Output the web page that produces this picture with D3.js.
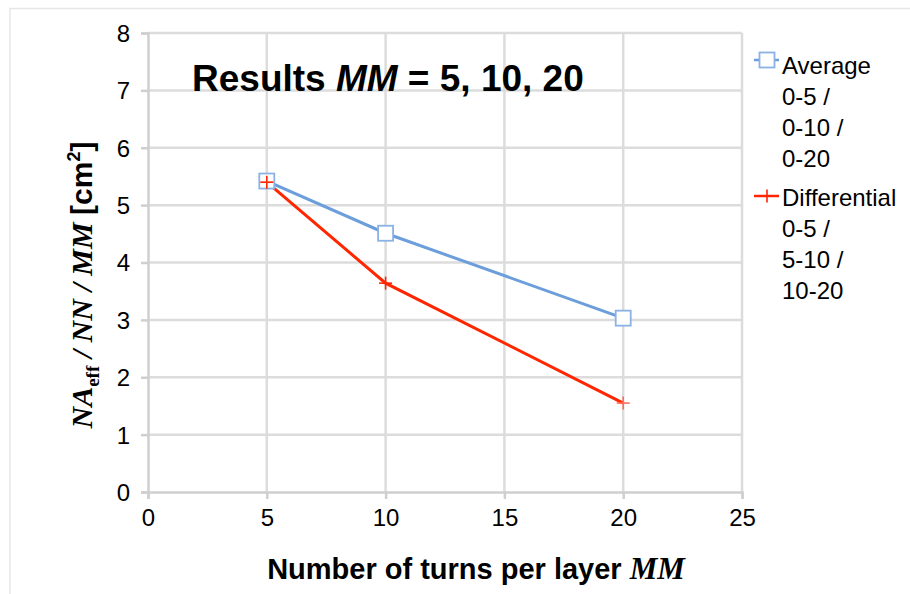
<!DOCTYPE html>
<html><head><meta charset="utf-8">
<script src="https://cdn.jsdelivr.net/npm/d3@7"></script>
<style>body{margin:0;background:#fff}svg{display:block}</style>
</head><body>
<svg id="c" width="910" height="594"></svg>
<script>
const turns = [5, 10, 20];
const averageVals = [5.42, 4.51, 3.03];
const differentialVals = [5.40, 3.64, 1.55];
const xTicks = [0, 5, 10, 15, 20, 25];
const yTicks = [0, 1, 2, 3, 4, 5, 6, 7, 8];
const legendAverage = ["Average", "0-5 /", "0-10 /", "0-20"];
const legendDiff = ["Differential", "0-5 /", "5-10 /", "10-20"];

const svg = d3.select("#c");
const sans = "'Liberation Sans', Arial, Helvetica, sans-serif";
const serif = "'Liberation Serif', 'Times New Roman', serif";
const x = d3.scaleLinear().domain([0, 25]).range([148, 742]);
const y = d3.scaleLinear().domain([0, 8]).range([492, 33]);

// outer border
svg.append("path").attr("d", "M10,594 V8.5 H910").attr("fill", "none").attr("stroke", "#e6e6e6").attr("stroke-width", 1.5);

// gridlines
svg.append("g").selectAll("line").data(yTicks.slice(1)).join("line")
  .attr("x1", x(0)).attr("x2", x(25)).attr("y1", d => y(d)).attr("y2", d => y(d))
  .attr("stroke", "#dcdcdc").attr("stroke-width", 2.5);
svg.append("g").selectAll("line").data(xTicks.slice(1)).join("line")
  .attr("y1", y(0)).attr("y2", y(8)).attr("x1", d => x(d)).attr("x2", d => x(d))
  .attr("stroke", "#dcdcdc").attr("stroke-width", 2.5);

// axes
const yAxis = svg.append("g").attr("transform", `translate(${x(0)},0)`)
  .call(d3.axisLeft(y).tickValues(yTicks).tickSize(7).tickPadding(11).tickFormat(d3.format("d")));
const xAxis = svg.append("g").attr("transform", `translate(0,${y(0)})`)
  .call(d3.axisBottom(x).tickValues(xTicks).tickSize(7).tickPadding(10).tickFormat(d3.format("d")));
[yAxis, xAxis].forEach(a => {
  a.select(".domain").attr("stroke", "#cfcfcf").attr("stroke-width", 2.5);
  a.selectAll(".tick line").attr("stroke", "#cfcfcf").attr("stroke-width", 2.5);
  a.selectAll("text").attr("font-family", sans).attr("font-size", 24).attr("fill", "#000");
});
yAxis.selectAll("text").attr("dy", "0.35em");

// lines
const line = d3.line().x(d => x(d[0])).y(d => y(d[1]));
const avgData = turns.map((t, i) => [t, averageVals[i]]);
const difData = turns.map((t, i) => [t, differentialVals[i]]);
const blue = "#6b9edb", blueM = "#8ab2e4", red = "#ff2600";
svg.append("path").datum(avgData).attr("d", line).attr("fill", "none").attr("stroke", blue).attr("stroke-width", 3);
svg.append("path").datum(difData).attr("d", line).attr("fill", "none").attr("stroke", red).attr("stroke-width", 3);

// markers
svg.append("g").selectAll("rect").data(avgData).join("rect")
  .attr("x", d => x(d[0]) - 7.5).attr("y", d => y(d[1]) - 7.5).attr("width", 15).attr("height", 15)
  .attr("fill", "#fff").attr("stroke", blueM).attr("stroke-width", 1.8);
const plus = (g, cx, cy, s, col) => {
  g.append("line").attr("x1", cx - s).attr("x2", cx + s).attr("y1", cy).attr("y2", cy).attr("stroke", col).attr("stroke-width", 1.6);
  g.append("line").attr("x1", cx).attr("x2", cx).attr("y1", cy - s).attr("y2", cy + s).attr("stroke", col).attr("stroke-width", 1.6);
};
const pg = svg.append("g");
difData.forEach(d => plus(pg, x(d[0]), y(d[1]), 6.5, d[0] === 20 ? "#ff6b5a" : red));

// title
const t = svg.append("text").attr("x", 192).attr("y", 91).attr("font-family", sans).attr("font-size", 37).attr("font-weight", "bold").attr("fill", "#000");
t.append("tspan").text("Results ");
t.append("tspan").attr("font-style", "italic").text("MM");
t.append("tspan").text(" = 5, 10, 20");

// y label
const yl = svg.append("text").attr("transform", "translate(92,285) rotate(-90)").attr("text-anchor", "middle")
  .attr("font-weight", "bold").attr("font-size", 30).attr("fill", "#000").attr("font-family", serif);
yl.append("tspan").attr("font-style", "italic").text("NA");
yl.append("tspan").attr("font-size", 19).attr("dy", 7).text("eff");
yl.append("tspan").attr("dy", -7).attr("font-style", "italic").text(" / NN / MM ");
yl.append("tspan").attr("font-family", sans).text("[cm");
yl.append("tspan").attr("font-family", sans).attr("font-size", 18).attr("dy", -12).text("2");
yl.append("tspan").attr("font-family", sans).attr("dy", 12).text("]");

// x label
const xl = svg.append("text").attr("x", 476).attr("y", 579).attr("text-anchor", "middle")
  .attr("font-family", sans).attr("font-weight", "bold").attr("font-size", 29).attr("fill", "#000");
xl.append("tspan").text("Number of turns per layer ");
xl.append("tspan").attr("font-family", serif).attr("font-style", "italic").attr("font-size", 31).text("MM");

// legend
const lg = svg.append("g");
const lx = 782;
lg.append("line").attr("x1", 754).attr("x2", 779).attr("y1", 60).attr("y2", 60).attr("stroke", blue).attr("stroke-width", 2.5);
lg.append("rect").attr("x", 759.5).attr("y", 52.5).attr("width", 15).attr("height", 15).attr("fill", "#fff").attr("stroke", blueM).attr("stroke-width", 1.8);
lg.append("line").attr("x1", 754).attr("x2", 779).attr("y1", 196).attr("y2", 196).attr("stroke", red).attr("stroke-width", 2.5);
plus(lg, 767, 196, 6.5, red);
lg.selectAll("text.a").data(legendAverage).join("text").attr("class", "a")
  .attr("x", lx).attr("y", (d, i) => 74 + i * 31).text(d => d);
lg.selectAll("text.b").data(legendDiff).join("text").attr("class", "b")
  .attr("x", lx).attr("y", (d, i) => 206 + i * 31).text(d => d);
lg.selectAll("text").attr("font-family", sans).attr("font-size", 24).attr("fill", "#000");
</script>
</body></html>
